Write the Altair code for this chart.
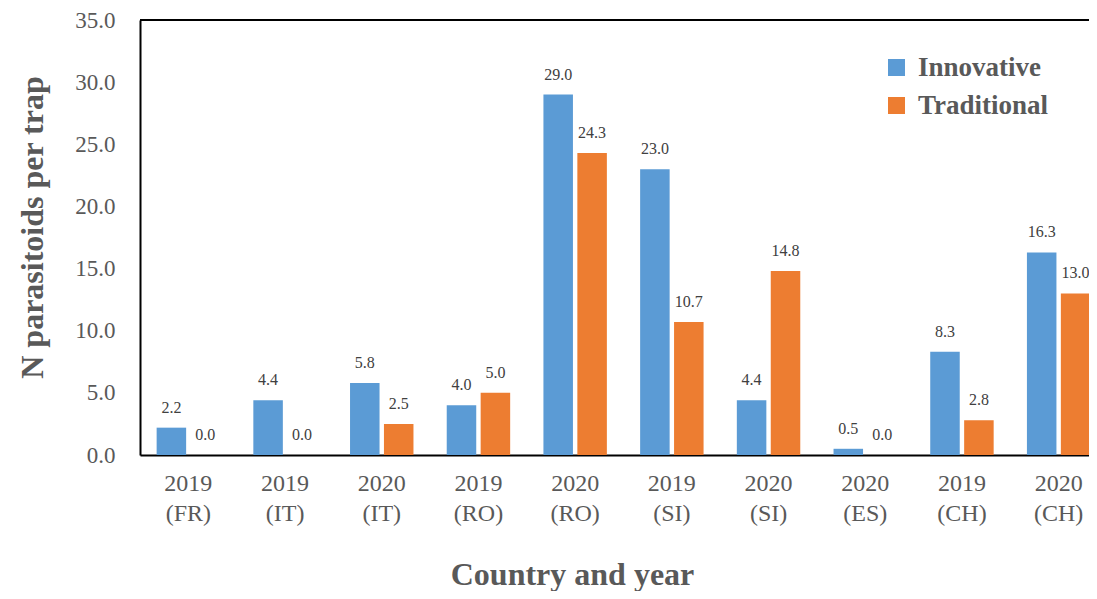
import altair as alt
import pandas as pd

categories = ["2019|(FR)", "2019|(IT)", "2020|(IT)", "2019|(RO)", "2020|(RO)",
              "2019|(SI)", "2020|(SI)", "2020|(ES)", "2019|(CH)", "2020|(CH)"]
innovative = [2.2, 4.4, 5.8, 4.0, 29.0, 23.0, 4.4, 0.5, 8.3, 16.3]
traditional = [0.0, 0.0, 2.5, 5.0, 24.3, 10.7, 14.8, 0.0, 2.8, 13.0]
series = ["Innovative", "Traditional"]
colors = ["#5B9BD5", "#ED7D31"]

rows = []
for c, a, b in zip(categories, innovative, traditional):
    rows.append({"cat": c, "type": series[0], "val": a})
    rows.append({"cat": c, "type": series[1], "val": b})
df = pd.DataFrame(rows)

FONT = "Liberation Serif"
GRAY = "#595959"

xscale = alt.Scale(domain=categories, range=[0, 967], paddingInner=0.344, paddingOuter=0.172)
xoff = alt.Scale(domain=series, paddingInner=0.13, paddingOuter=0)
yscale = alt.Scale(domain=[0, 35], nice=False)

x_enc = alt.X("cat:N", scale=xscale, sort=categories,
              axis=alt.Axis(title="Country and year", labelExpr="split(datum.value, '|')",
                            labelAngle=0, labelFont=FONT, labelFontSize=24, labelColor=GRAY,
                            labelPadding=16, labelLineHeight=30, ticks=False,
                            domainColor="black", domainWidth=2,
                            titleFont=FONT, titleFontSize=32, titleFontWeight="bold",
                            titleColor=GRAY, titleX=432, titleY=129, titleAlign="center",
                            titleBaseline="alphabetic", titleAnchor="start"))
y_enc = alt.Y("val:Q", scale=yscale,
              axis=alt.Axis(title="N parasitoids per trap", values=[0, 5, 10, 15, 20, 25, 30, 35],
                            format=".1f", grid=False, ticks=False, labelFont=FONT,
                            labelFontSize=23, labelColor=GRAY, labelPadding=25,
                            domainColor="black", domainWidth=2,
                            titleFont=FONT, titleFontSize=32, titleFontWeight="bold",
                            titleColor=GRAY, titleAngle=270, titleX=-108, titleY=207,
                            titleAlign="center", titleBaseline="middle", titleAnchor="start"))

base = alt.Chart(df)

bars = base.mark_bar().encode(
    x=x_enc,
    xOffset=alt.XOffset("type:N", scale=xoff, sort=series),
    y=y_enc,
    color=alt.Color("type:N", scale=alt.Scale(domain=series, range=colors),
                    legend=alt.Legend(title=None, orient="none", legendX=743, legendY=34,
                                      symbolType="square", symbolSize=289,
                                      symbolStrokeWidth=0, labelFont=FONT,
                                      labelFontSize=27, labelFontWeight="bold",
                                      labelColor=GRAY, labelOffset=8, rowPadding=10)),
)

labels = base.mark_text(font=FONT, fontSize=16, color="#404040", dy=-15,
                        baseline="alphabetic", align="center").encode(
    x=alt.X("cat:N", scale=xscale, sort=categories),
    xOffset=alt.XOffset("type:N", scale=xoff, sort=series),
    y=alt.Y("val:Q", scale=yscale),
    text=alt.Text("val:Q", format=".1f"),
)

top_line = alt.Chart(alt.Data(values=[{"k": 1}])).mark_rule(color="black", strokeWidth=2).encode(
    x=alt.value(0), x2=alt.value(967), y=alt.value(0)
)

chart = alt.layer(bars, labels, top_line).properties(
    width=949, height=435,
    autosize=alt.AutoSizeParams(type="none"),
    padding={"left": 132, "top": 12, "right": 0, "bottom": 136},
).configure_view(stroke=None).configure(background="white")

chart.save("out.html", embed_options={"renderer": "svg", "actions": False})
